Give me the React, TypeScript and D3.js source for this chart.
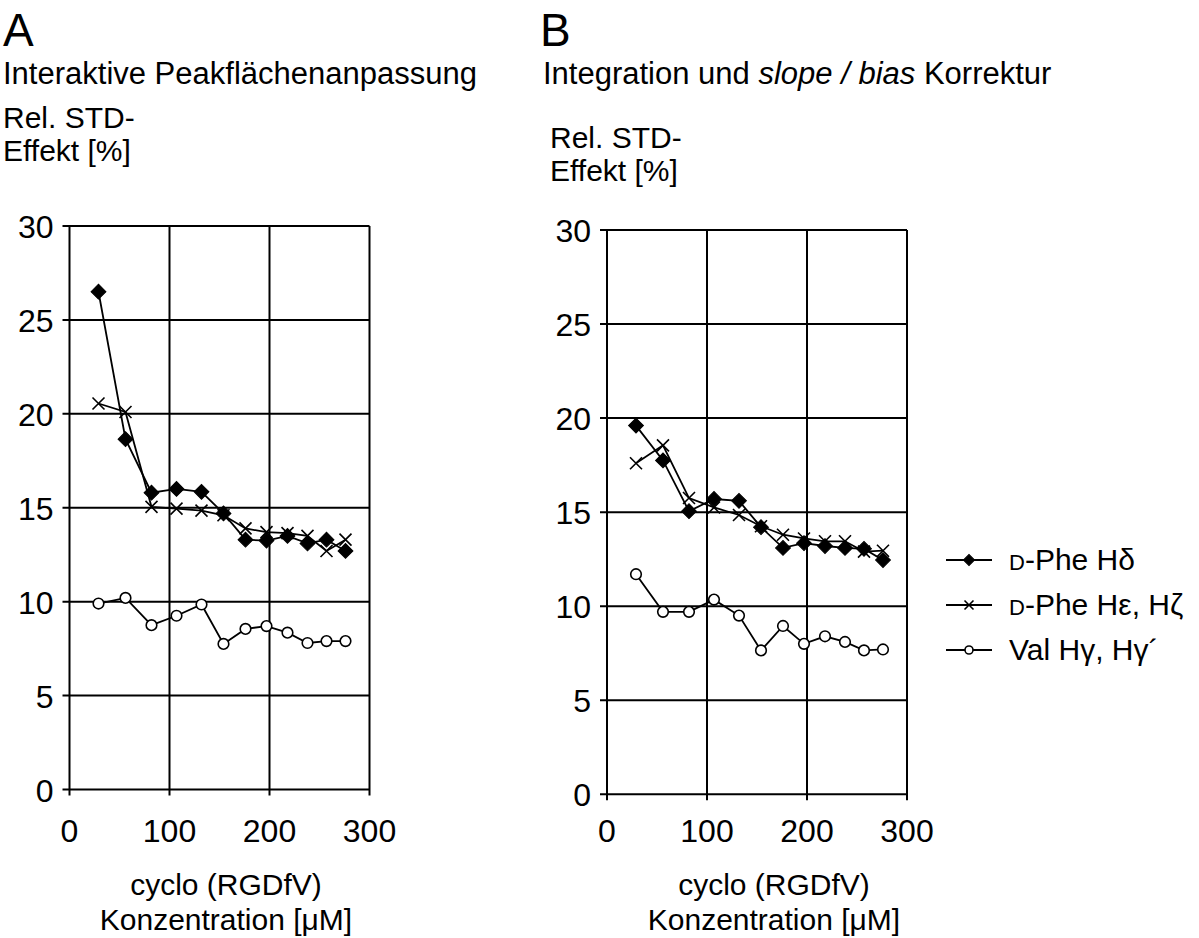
import React from "react";
import * as d3 from "d3";

const concentrations = [29, 56, 82, 107, 132, 154, 176, 197, 218, 238, 257, 276];

const aPheDelta = [26.5, 18.65, 15.8, 16.0, 15.85, 14.7, 13.3, 13.25, 13.5, 13.1, 13.3, 12.7];
const aPheEpsZeta = [20.55, 20.1, 15.05, 14.95, 14.85, 14.6, 13.9, 13.7, 13.65, 13.5, 12.7, 13.3];
const aValGamma = [9.9, 10.2, 8.75, 9.25, 9.85, 7.75, 8.55, 8.7, 8.35, 7.8, 7.9, 7.9];

const bPheDelta = [19.6, 17.75, 15.05, 15.7, 15.6, 14.2, 13.1, 13.35, 13.2, 13.1, 13.05, 12.45];
const bPheEpsZeta = [17.6, 18.55, 15.75, 15.25, 14.85, 14.25, 13.8, 13.6, 13.45, 13.45, 12.9, 12.95];
const bValGamma = [11.7, 9.7, 9.7, 10.35, 9.5, 7.65, 8.95, 8.0, 8.4, 8.1, 7.65, 7.7];

const xTicks = [0, 100, 200, 300];
const yTicks = [0, 5, 10, 15, 20, 25, 30];

const FONT = "'Liberation Sans', Arial, Helvetica, sans-serif";

type Marker = "diamond" | "cross" | "circle";

function MarkerShape({ type, x, y, s = 1 }: { type: Marker; x: number; y: number; s?: number }) {
  if (type === "diamond") {
    const p = d3.symbol().type(d3.symbolSquare).size(110 * s * s)();
    return <path d={p || ""} transform={`translate(${x},${y}) rotate(45)`} fill="#000" stroke="#000" strokeWidth={1} />;
  }
  if (type === "cross") {
    const r = 6 * s;
    return (
      <path
        d={`M${x - r},${y - r}L${x + r},${y + r}M${x - r},${y + r}L${x + r},${y - r}`}
        stroke="#000"
        strokeWidth={1.6}
        fill="none"
      />
    );
  }
  return <circle cx={x} cy={y} r={5.3 * s} fill="#fff" stroke="#000" strokeWidth={1.6} />;
}

type PanelProps = {
  left: number;
  right: number;
  top: number;
  bottom: number;
  letter: string;
  letterX: number;
  subtitle: React.ReactNode;
  subX: number;
  ylabX: number;
  ylabY: number;
  xlabX: number;
  series: { values: number[]; marker: Marker }[];
};

function Panel(p: PanelProps) {
  const x = d3.scaleLinear().domain([0, 300]).range([p.left, p.right]);
  const y = d3.scaleLinear().domain([0, 30]).range([p.bottom, p.top]);
  const line = d3
    .line<number>()
    .x((_, i) => x(concentrations[i]))
    .y((v) => y(v));
  return (
    <g fontFamily={FONT}>
      <text x={p.letterX} y={46} fontSize={46}>{p.letter}</text>
      <text x={p.subX} y={84} fontSize={31}>{p.subtitle}</text>
      <text x={p.ylabX} y={p.ylabY} fontSize={30}>Rel. STD-</text>
      <text x={p.ylabX} y={p.ylabY + 33} fontSize={30}>Effekt [%]</text>
      {yTicks.map((t) => (
        <g key={"y" + t}>
          <line x1={p.left - 7} x2={p.right} y1={y(t)} y2={y(t)} stroke="#000" strokeWidth={2} />
          <text x={p.left - 16} y={y(t) + 12} fontSize={32} textAnchor="end">{t}</text>
        </g>
      ))}
      {xTicks.map((t) => (
        <g key={"x" + t}>
          <line x1={x(t)} x2={x(t)} y1={p.top} y2={p.bottom + 6} stroke="#000" strokeWidth={2} />
          <text x={x(t)} y={842} fontSize={32} textAnchor="middle">{t}</text>
        </g>
      ))}
      <text x={p.xlabX} y={895} fontSize={30} textAnchor="middle">cyclo (RGDfV)</text>
      <text x={p.xlabX} y={930} fontSize={30} textAnchor="middle">Konzentration [μM]</text>
      {p.series.map((s, si) => (
        <path key={"l" + si} d={line(s.values) || ""} fill="none" stroke="#000" strokeWidth={1.8} />
      ))}
      {p.series.map((s, si) =>
        s.values.map((v, i) => (
          <MarkerShape key={`m${si}-${i}`} type={s.marker} x={x(concentrations[i])} y={y(v)} />
        ))
      )}
    </g>
  );
}

const legendItems: { marker: Marker; label: React.ReactNode }[] = [
  { marker: "diamond", label: (<><tspan fontSize={22}>D</tspan>-Phe Hδ</>) },
  { marker: "cross", label: (<><tspan fontSize={22}>D</tspan>-Phe Hε, Hζ</>) },
  { marker: "circle", label: (<>Val Hγ, Hγ´</>) },
];

export default function App() {
  return (
    <svg
      width={1199}
      height={938}
      style={{ position: "absolute", left: 0, top: 0, background: "#fff" }}
    >
      <rect width={1199} height={938} fill="#fff" />
      <Panel
        left={69.5}
        right={369.5}
        top={226}
        bottom={789.5}
        letter="A"
        letterX={3}
        subtitle="Interaktive Peakflächenanpassung"
        subX={3}
        ylabX={3}
        ylabY={128}
        xlabX={226}
        series={[
          { values: aPheDelta, marker: "diamond" },
          { values: aPheEpsZeta, marker: "cross" },
          { values: aValGamma, marker: "circle" },
        ]}
      />
      <Panel
        left={607}
        right={907}
        top={230}
        bottom={794.3}
        letter="B"
        letterX={540}
        subtitle={<>Integration und <tspan fontStyle="italic">slope / bias</tspan> Korrektur</>}
        subX={543}
        ylabX={550}
        ylabY={148}
        xlabX={774}
        series={[
          { values: bPheDelta, marker: "diamond" },
          { values: bPheEpsZeta, marker: "cross" },
          { values: bValGamma, marker: "circle" },
        ]}
      />
      <g fontFamily={FONT}>
        {legendItems.map((it, i) => {
          const cy = 560 + i * 45;
          return (
            <g key={"lg" + i}>
              <line x1={946} x2={992} y1={cy} y2={cy} stroke="#000" strokeWidth={1.8} />
              <MarkerShape type={it.marker} x={969} y={cy} s={0.75} />
              <text x={1009} y={cy + 10} fontSize={30}>{it.label}</text>
            </g>
          );
        })}
      </g>
    </svg>
  );
}
